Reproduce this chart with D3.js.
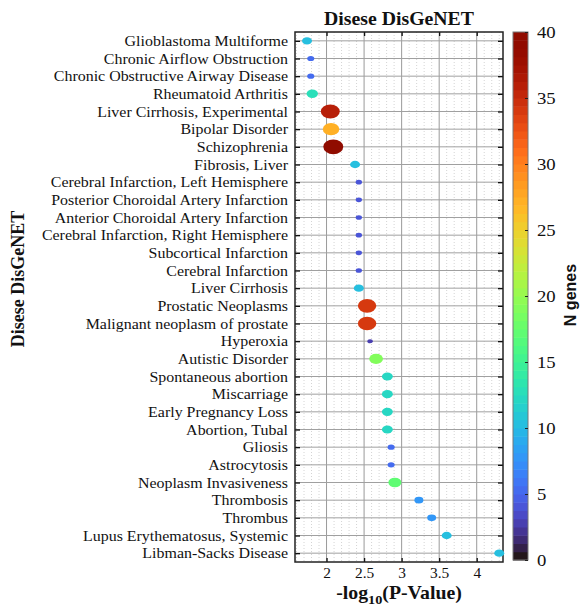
<!DOCTYPE html>
<html>
<head>
<meta charset="utf-8">
<script src="https://cdn.jsdelivr.net/npm/d3@7"></script>
<style>
  body { margin: 0; background: #fff; }
  svg { display: block; }
  .serif { font-family: "Liberation Serif", "Times New Roman", serif; fill: #111; }
</style>
</head>
<body>
<svg class="chart"></svg>
<script>
// disease terms, top to bottom
var diseases = [
    "Glioblastoma Multiforme", "Chronic Airflow Obstruction", "Chronic Obstructive Airway Disease",
    "Rheumatoid Arthritis", "Liver Cirrhosis, Experimental", "Bipolar Disorder", "Schizophrenia",
    "Fibrosis, Liver", "Cerebral Infarction, Left Hemisphere", "Posterior Choroidal Artery Infarction",
    "Anterior Choroidal Artery Infarction", "Cerebral Infarction, Right Hemisphere", "Subcortical Infarction",
    "Cerebral Infarction", "Liver Cirrhosis", "Prostatic Neoplasms", "Malignant neoplasm of prostate",
    "Hyperoxia", "Autistic Disorder", "Spontaneous abortion", "Miscarriage", "Early Pregnancy Loss",
    "Abortion, Tubal", "Gliosis", "Astrocytosis", "Neoplasm Invasiveness", "Thrombosis", "Thrombus",
    "Lupus Erythematosus, Systemic", "Libman-Sacks Disease"
];
// -log10(P-Value)
var logP = [
    1.74, 1.79, 1.79, 1.81, 2.05, 2.06, 2.09, 2.38, 2.43, 2.43,
    2.43, 2.43, 2.43, 2.43, 2.43, 2.54, 2.54, 2.58, 2.66, 2.81,
    2.81, 2.81, 2.81, 2.86, 2.86, 2.91, 3.23, 3.40, 3.60, 4.30
];
// N genes
var nGenes = [
    10, 5, 5, 13, 36, 27, 40, 10, 4, 4,
    4, 4, 4, 4, 10, 34, 34, 3, 19, 12,
    12, 12, 12, 5, 5, 17, 8, 8, 10, 10
];
var xTicks = [2, 2.5, 3, 3.5, 4];
var cbTicks = [0, 5, 10, 15, 20, 25, 30, 35, 40];

function show() {
    'use strict';
    var W = 580, H = 607;
    var plot = {left: 295, top: 32, right: 503, bottom: 562};
    var cb = {left: 513, right: 528, top: 32, bottom: 560};
    var sx = 1.1; // the original picture is a bit wide

    var svg = d3.select(".chart").attr("width", W).attr("height", H);

    var x = d3.scaleLinear().domain([1.58, 4.35]).range([plot.left, plot.right]);
    var y = d3.scalePoint().domain(diseases).range([plot.top, plot.bottom]).padding(0.5);
    var r = d3.scaleSqrt().domain([0, 40]).range([0, 10]);
    var nBands = 64;
    var color = d3.scaleQuantize().domain([0, 40]).range(d3.quantize(d3.interpolateTurbo, nBands));

    // minor dotted grid
    var minor = d3.range(1.6, 4.35, 0.1).filter(function(v) {
        return Math.abs(v * 2 - Math.round(v * 2)) > 0.01;
    });
    svg.append("g").selectAll("line").data(minor).enter().append("line")
        .attr("x1", function(d) { return x(d); }).attr("x2", function(d) { return x(d); })
        .attr("y1", plot.top).attr("y2", plot.bottom)
        .attr("stroke", "#d4d4d4").attr("stroke-width", 1).attr("stroke-dasharray", "1,2");

    // major grid
    svg.append("g").selectAll("line").data(xTicks).enter().append("line")
        .attr("x1", function(d) { return x(d); }).attr("x2", function(d) { return x(d); })
        .attr("y1", plot.top).attr("y2", plot.bottom)
        .attr("stroke", "#9a9a9a").attr("stroke-width", 1);
    svg.append("g").selectAll("line").data(diseases).enter().append("line")
        .attr("x1", plot.left).attr("x2", plot.right)
        .attr("y1", function(d) { return y(d); }).attr("y2", function(d) { return y(d); })
        .attr("stroke", "#a0a0a0").attr("stroke-width", 1);

    // axes, ticks pointing inward on all sides
    svg.append("g").attr("transform", "translate(0," + plot.bottom + ")")
        .call(d3.axisBottom(x).tickValues(xTicks).tickFormat(d3.format("")).tickSize(-4).tickPadding(6).tickSizeOuter(0))
        .call(function(g) {
            g.select(".domain").remove();
            g.selectAll("line").attr("stroke", "#111").attr("stroke-width", 1.3);
            g.selectAll("text").attr("class", "serif").attr("font-size", 14)
                .attr("transform", "scale(" + sx + ",1)");
        });
    svg.append("g").attr("transform", "translate(0," + plot.top + ")")
        .call(d3.axisTop(x).tickValues(xTicks).tickSize(-4).tickFormat("").tickSizeOuter(0))
        .call(function(g) {
            g.select(".domain").remove();
            g.selectAll("line").attr("stroke", "#111").attr("stroke-width", 1.3);
        });
    svg.append("g").attr("transform", "translate(" + plot.left + ",0)")
        .call(d3.axisLeft(y).tickSize(-5).tickPadding(7).tickSizeOuter(0))
        .call(function(g) {
            g.select(".domain").remove();
            g.selectAll("line").attr("stroke", "#111").attr("stroke-width", 1.3);
            g.selectAll("text").attr("class", "serif").attr("font-size", 14.5)
                .attr("fill", "#222")
                .attr("transform", "translate(-7,0) scale(" + sx + ",1)")
                .attr("x", 0);
        });
    svg.append("g").attr("transform", "translate(" + plot.right + ",0)")
        .call(d3.axisRight(y).tickSize(-5).tickFormat("").tickSizeOuter(0))
        .call(function(g) {
            g.select(".domain").remove();
            g.selectAll("line").attr("stroke", "#111").attr("stroke-width", 1.3);
        });

    // frame
    svg.append("rect")
        .attr("x", plot.left).attr("y", plot.top)
        .attr("width", plot.right - plot.left).attr("height", plot.bottom - plot.top)
        .attr("fill", "none").attr("stroke", "#222").attr("stroke-width", 1.5);

    // points
    var idx = d3.range(diseases.length);
    svg.append("g").selectAll("ellipse").data(idx).enter().append("ellipse")
        .attr("cx", function(i) { return x(logP[i]); })
        .attr("cy", function(i) { return y(diseases[i]); })
        .attr("rx", function(i) { return r(nGenes[i]); })
        .attr("ry", function(i) { return r(nGenes[i]) * 0.74; })
        .attr("fill", function(i) { return color(nGenes[i]); });

    // colorbar
    var cy = d3.scaleLinear().domain([0, 40]).range([cb.bottom, cb.top]);
    var bands = d3.range(nBands);
    svg.append("g").selectAll("rect").data(bands).enter().append("rect")
        .attr("x", cb.left)
        .attr("width", cb.right - cb.left)
        .attr("y", function(b) { return cy((b + 1) * 40 / nBands); })
        .attr("height", function(b) { return cy(b * 40 / nBands) - cy((b + 1) * 40 / nBands) + 0.5; })
        .attr("fill", function(b) { return color((b + 0.5) * 40 / nBands); });
    svg.append("rect")
        .attr("x", cb.left).attr("y", cb.top)
        .attr("width", cb.right - cb.left).attr("height", cb.bottom - cb.top)
        .attr("fill", "none").attr("stroke", "#777").attr("stroke-width", 1);
    svg.append("g").attr("transform", "translate(" + cb.right + ",0)")
        .call(d3.axisRight(cy).tickValues(cbTicks).tickSize(-3).tickPadding(9).tickSizeOuter(0))
        .call(function(g) {
            g.select(".domain").remove();
            g.selectAll("line").attr("stroke", "#222");
            g.selectAll("text").attr("class", "serif").attr("font-size", 17)
                .attr("transform", "translate(9,0) scale(" + sx + ",1)").attr("x", 0);
        });

    // titles
    svg.append("text").attr("class", "serif")
        .attr("transform", "translate(" + ((plot.left + plot.right) / 2) + ",25) scale(" + sx + ",1)")
        .attr("text-anchor", "middle").attr("font-size", 18).attr("font-weight", "bold")
        .text("Disese DisGeNET");

    var xl = svg.append("text").attr("class", "serif")
        .attr("transform", "translate(" + ((plot.left + plot.right) / 2) + ",599) scale(" + sx + ",1)")
        .attr("text-anchor", "middle").attr("font-size", 18).attr("font-weight", "bold");
    xl.append("tspan").text("-log");
    xl.append("tspan").attr("font-size", 13).attr("dy", 5).text("10");
    xl.append("tspan").attr("dy", -5).text("(P-Value)");

    svg.append("text").attr("class", "serif")
        .attr("transform", "translate(24,279) rotate(-90)")
        .attr("text-anchor", "middle").attr("font-size", 18).attr("font-weight", "bold")
        .text("Disese DisGeNET");

    svg.append("text")
        .attr("transform", "translate(576,295) rotate(-90)")
        .attr("text-anchor", "middle")
        .attr("font-family", "'Liberation Sans', Arial, sans-serif")
        .attr("font-size", 16).attr("font-weight", "bold").attr("fill", "#111")
        .text("N genes");
}
show();
</script>
</body>
</html>
